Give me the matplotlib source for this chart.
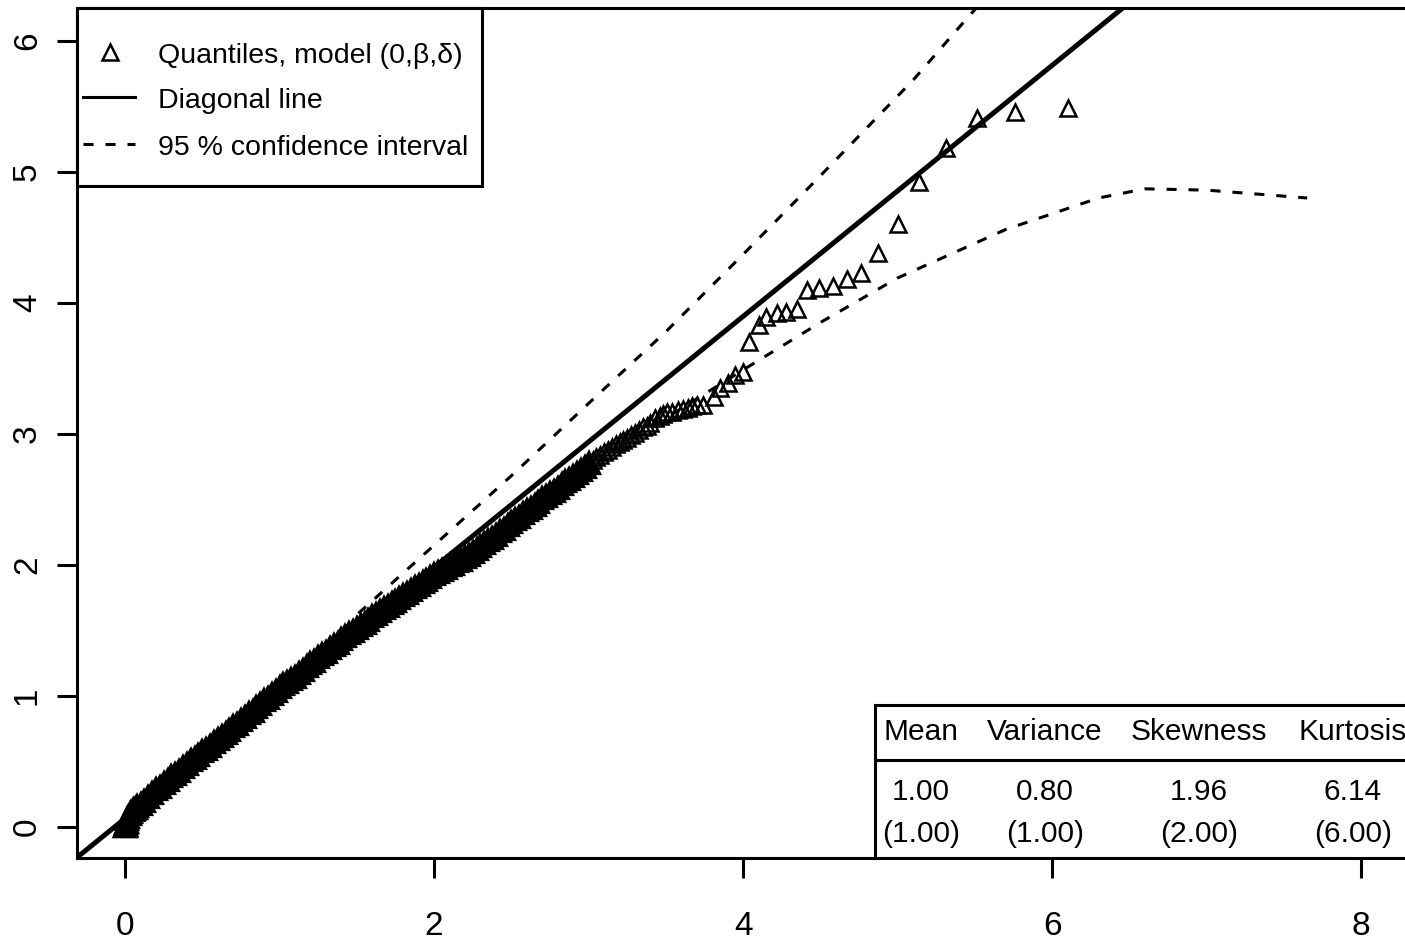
import matplotlib
matplotlib.use("Agg")
import matplotlib.pyplot as plt
from matplotlib.lines import Line2D

plt.rcParams['font.family'] = ['Liberation Sans', 'DejaVu Sans']

# ---------------- data ---------------- #
# theoretical quantiles (x) vs empirical quantiles (y), model (0, beta, delta)
# dense part of the cloud (markers merge into a solid band)
q_x_dense = [0.0, 0.002, 0.004, 0.006, 0.008, 0.01, 0.015, 0.02, 0.03, 0.04, 0.05,
             0.06, 0.07, 0.08,
             0.100, 0.125, 0.150, 0.175, 0.200, 0.225, 0.250, 0.275, 0.300, 0.325,
             0.350, 0.375, 0.400, 0.425, 0.450, 0.475, 0.500, 0.525, 0.550, 0.575,
             0.600, 0.625, 0.650, 0.675, 0.700, 0.725, 0.750, 0.775, 0.800, 0.825,
             0.850, 0.875, 0.900, 0.925, 0.950, 0.975, 1.000, 1.025, 1.050, 1.075,
             1.100, 1.125, 1.150, 1.175, 1.200, 1.225, 1.250, 1.275, 1.300, 1.325,
             1.350, 1.375, 1.400, 1.425, 1.450, 1.475, 1.500, 1.525, 1.550, 1.575,
             1.600, 1.625, 1.650, 1.675, 1.700, 1.725, 1.750, 1.775, 1.800, 1.825,
             1.850, 1.875, 1.900, 1.925, 1.950, 1.975, 2.000, 2.025, 2.050, 2.075,
             2.100, 2.125, 2.150, 2.175, 2.200, 2.225, 2.250, 2.275, 2.300, 2.325,
             2.350, 2.375, 2.400, 2.425, 2.450, 2.475, 2.500, 2.525, 2.550, 2.575,
             2.600, 2.625, 2.650, 2.675, 2.700, 2.725, 2.750, 2.775, 2.800, 2.825,
             2.850, 2.875, 2.900, 2.925, 2.950, 2.975, 3.000]
q_y_dense = [0.0, 0.0, 0.01, 0.0, 0.02, 0.03, 0.05, 0.07, 0.09, 0.11, 0.12,
             0.13, 0.14, 0.15,
             0.17, 0.19, 0.22, 0.25, 0.28, 0.30, 0.33, 0.35, 0.38, 0.40,
             0.42, 0.45, 0.47, 0.50, 0.52, 0.54, 0.57, 0.59, 0.61, 0.64,
             0.66, 0.69, 0.71, 0.73, 0.76, 0.78, 0.81, 0.83, 0.86, 0.88,
             0.91, 0.93, 0.96, 0.98, 1.01, 1.03, 1.06, 1.08, 1.10, 1.12,
             1.14, 1.17, 1.19, 1.22, 1.24, 1.26, 1.29, 1.31, 1.33, 1.36,
             1.38, 1.40, 1.43, 1.45, 1.47, 1.49, 1.51, 1.53, 1.55, 1.57,
             1.60, 1.62, 1.64, 1.66, 1.68, 1.70, 1.72, 1.74, 1.76, 1.78,
             1.80, 1.82, 1.84, 1.86, 1.88, 1.90, 1.92, 1.94, 1.95, 1.97,
             1.99, 2.00, 2.02, 2.03, 2.05, 2.07, 2.09, 2.11, 2.14, 2.16,
             2.18, 2.20, 2.22, 2.25, 2.27, 2.30, 2.32, 2.34, 2.36, 2.39,
             2.41, 2.43, 2.45, 2.47, 2.50, 2.52, 2.54, 2.56, 2.58, 2.61,
             2.63, 2.65, 2.67, 2.69, 2.72, 2.74, 2.77]
# upper tail (markers still distinguishable)
q_x_tail = [3.025, 3.050, 3.075, 3.100, 3.125, 3.150, 3.175, 3.200, 3.225,
            3.250, 3.275, 3.300, 3.325, 3.350, 3.375, 3.400,
            3.43, 3.46, 3.48, 3.51, 3.54, 3.58, 3.61, 3.64, 3.67, 3.70, 3.74, 3.81,
            3.85, 3.90, 3.95, 4.00, 4.04, 4.10, 4.15, 4.22, 4.28, 4.35, 4.41, 4.49,
            4.58, 4.67, 4.76, 4.87, 5.00, 5.14, 5.31, 5.51, 5.76, 6.10]
q_y_tail = [2.80, 2.82, 2.84, 2.86, 2.88, 2.90, 2.92, 2.94, 2.95,
            2.97, 2.99, 3.01, 3.03, 3.05, 3.06, 3.08,
            3.12, 3.14, 3.15, 3.17, 3.17, 3.18, 3.19, 3.20, 3.21, 3.22, 3.22, 3.28,
            3.35, 3.39, 3.45, 3.47, 3.70, 3.83, 3.89, 3.92, 3.93, 3.95, 4.10, 4.11,
            4.13, 4.18, 4.23, 4.38, 4.60, 4.92, 5.18, 5.41, 5.46, 5.49]

# diagonal line (intercept, slope)
diag_a, diag_b = 0.065, 0.958

# 95 % confidence band
ci_up_x = [1.51, 2.00, 2.50, 3.07, 3.50, 4.00, 4.50, 5.10, 5.47, 5.80]
ci_up_y = [1.63, 2.15, 2.68, 3.31, 3.78, 4.37, 4.97, 5.70, 6.20, 6.62]
ci_lo_x = [1.51, 2.00, 2.50, 3.00, 3.50, 4.03, 4.50, 5.00, 5.70, 6.30, 6.60, 7.00, 7.65]
ci_lo_y = [1.58, 1.97, 2.36, 2.74, 3.12, 3.51, 3.85, 4.19, 4.56, 4.80, 4.87, 4.86, 4.80]

# moments table
stat_names = ["Mean", "Variance", "Skewness", "Kurtosis"]
stat_emp = ["1.00", "0.80", "1.96", "6.14"]
stat_theo = ["(1.00)", "(1.00)", "(2.00)", "(6.00)"]

leg_labels = ["Quantiles, model (0,\u03b2,\u03b4)", "Diagonal line", "95 % confidence interval"]

# ---------------- figure ---------------- #
W, H = 1405, 942
fig = plt.figure(figsize=(W / 100, H / 100), dpi=100)
ax = fig.add_axes([77 / W, 84 / H, (1454 - 77) / W, 850 / H])
ax.set_xlim(-0.311, 8.6)
ax.set_ylim(-0.237, 6.25)

lw_ax = 2.2
for side in ["left", "bottom", "top"]:
    ax.spines[side].set_linewidth(lw_ax)
ax.spines["right"].set_visible(False)

ax.set_xticks([0, 2, 4, 6, 8])
ax.set_yticks([0, 1, 2, 3, 4, 5, 6])
ax.tick_params(axis="both", length=14.5, width=lw_ax, labelsize=24)
ax.tick_params(axis="x", pad=24)
ax.tick_params(axis="y", pad=10)
for lab in ax.get_yticklabels():
    lab.set_rotation(90)
    lab.set_va("center")

tri_kw = dict(marker="^", markersize=12, markerfacecolor="none",
              markeredgecolor="black", markeredgewidth=1.8, linestyle="none")
dash = (0, (3.3, 3.9))

# the packed part is drawn with a heavier outline so that it fills like the original
ax.plot(q_x_dense, q_y_dense, zorder=3, **dict(tri_kw, markersize=11.5, markeredgewidth=4.5))
ax.plot(q_x_tail, q_y_tail, zorder=3, **tri_kw)
xs = [-0.311, 8.6]
ax.plot(xs, [diag_a + diag_b * v for v in xs], color="black", lw=3.6, zorder=2)
ax.plot(ci_up_x, ci_up_y, color="black", lw=2.2, linestyle=dash)
ax.plot(ci_lo_x, ci_lo_y, color="black", lw=2.2, linestyle=dash)

# pixel layout -> figure fraction
def fx(px):
    return px / W

def fy(py):
    return 1 - py / H

def hline(x0, x1, y, **kw):
    fig.add_artist(Line2D([fx(x0), fx(x1)], [fy(y), fy(y)], color="black", **kw))

def vline(x, y0, y1, **kw):
    fig.add_artist(Line2D([fx(x), fx(x)], [fy(y0), fy(y1)], color="black", **kw))

# legend box (R style)
leg_l, leg_r, leg_t, leg_b = 77, 482, 8, 186
fig.add_artist(plt.Rectangle((fx(leg_l), fy(leg_b)), fx(leg_r - leg_l), (leg_b - leg_t) / H,
                             facecolor="white", edgecolor="black", lw=lw_ax, zorder=5))
fig.add_artist(Line2D([fx(110)], [fy(52)], zorder=6, **tri_kw))
hline(83, 135, 97, lw=2.2, zorder=6)
hline(83, 135, 144, lw=2.2, linestyle=dash, zorder=6)
for base_y, txt in zip([63, 108, 155], leg_labels):
    fig.text(fx(158), fy(base_y), txt, ha="left", va="baseline", fontsize=20.5, zorder=7)

# moments table
tbl_l, tbl_t, tbl_mid, tbl_b = 875, 705, 760, 858
hline(tbl_l, W + 5, tbl_t, lw=lw_ax)
hline(tbl_l, W + 5, tbl_mid, lw=lw_ax)
vline(tbl_l, tbl_t, tbl_b, lw=lw_ax)
col_x = [921, 1045, 1199, 1353]
for cx, nm, ev, tv in zip(col_x, stat_names, stat_emp, stat_theo):
    fig.text(fx(cx), fy(740), nm, ha="center", va="baseline", fontsize=21.5)
    fig.text(fx(cx), fy(800), ev, ha="center", va="baseline", fontsize=21.5)
    fig.text(fx(cx), fy(842), tv, ha="center", va="baseline", fontsize=21.5)

fig.savefig("out.png", dpi=100)
